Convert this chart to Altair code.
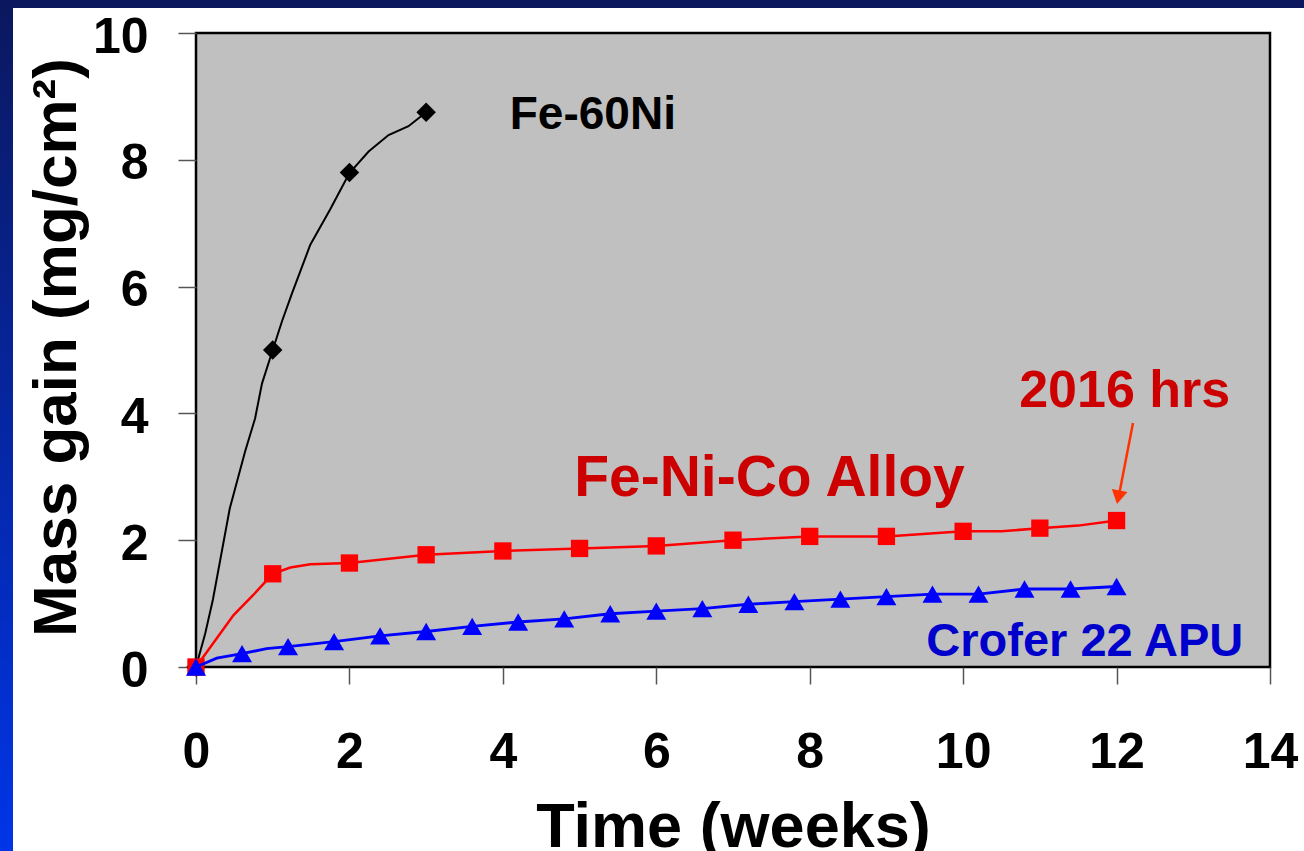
import altair as alt
import pandas as pd

FONT = "Liberation Sans"

# Fe-60Ni: recorded curve and marked weekly points
fe60ni_curve_t = [0, 0.12, 0.22, 0.44, 0.64, 0.77, 0.86, 1.0, 1.12, 1.25, 1.49, 1.75, 2.0, 2.25, 2.51, 2.77, 3.0]
fe60ni_curve_m = [0, 0.53, 1.06, 2.5, 3.4, 3.92, 4.47, 5.0, 5.45, 5.89, 6.66, 7.22, 7.79, 8.13, 8.39, 8.53, 8.75]
fe60ni_t = [0, 1, 2, 3]
fe60ni_m = [0, 5.0, 7.8, 8.75]

# Fe-Ni-Co alloy
fenico_curve_t = [0, 0.49, 0.75, 1.0, 1.23, 1.49, 2, 3, 4, 5, 6, 7, 8, 9, 10, 10.5, 11, 11.5, 12]
fenico_curve_m = [0, 0.82, 1.14, 1.47, 1.57, 1.62, 1.64, 1.77, 1.83, 1.87, 1.91, 2.0, 2.06, 2.06, 2.14, 2.14, 2.19, 2.23, 2.31]
fenico_t = [0, 1, 2, 3, 4, 5, 6, 7, 8, 9, 10, 11, 12]
fenico_m = [0, 1.47, 1.64, 1.77, 1.83, 1.87, 1.91, 2.0, 2.06, 2.06, 2.14, 2.19, 2.31]

# Crofer 22 APU
crofer_curve_t = [0, 0.27, 0.6, 0.92, 1.2, 1.8, 2.4, 3.0, 3.6, 4.2, 4.8, 5.4, 6.0, 6.6, 7.2, 7.8, 8.4, 9.0, 9.6, 10.2, 10.8, 11.4, 12.0]
crofer_curve_m = [0, 0.14, 0.21, 0.29, 0.32, 0.40, 0.49, 0.56, 0.64, 0.71, 0.76, 0.84, 0.88, 0.92, 0.99, 1.03, 1.07, 1.11, 1.15, 1.15, 1.23, 1.23, 1.27]
crofer_t = [0, 0.6, 1.2, 1.8, 2.4, 3.0, 3.6, 4.2, 4.8, 5.4, 6.0, 6.6, 7.2, 7.8, 8.4, 9.0, 9.6, 10.2, 10.8, 11.4, 12.0]
crofer_m = [0, 0.21, 0.32, 0.40, 0.49, 0.56, 0.64, 0.71, 0.76, 0.84, 0.88, 0.92, 0.99, 1.03, 1.07, 1.11, 1.15, 1.15, 1.23, 1.23, 1.27]

# Axis ticks
x_ticks = [0, 2, 4, 6, 8, 10, 12, 14]
y_ticks = [0, 2, 4, 6, 8, 10]

# In-plot labels
label_text = ["Fe-60Ni", "Fe-Ni-Co Alloy", "2016 hrs", "Crofer 22 APU"]
label_t = [4.09, 4.93, 10.73, 9.52]
label_m = [8.49, 2.70, 4.10, 0.17]
label_color = ["#000000", "#CC0000", "#CC0000", "#0000CC"]
label_size = [46, 57, 52, 47]

# Arrow pointing at the 2016 h measurement
arrow_t = [12.214]
arrow_m = [3.85]
arrow_t2 = [12.03]
arrow_m2 = [2.70]
head_t = [12.023]
head_m = [2.678]

W, H = 1074, 634
PAD_L, PAD_T = 196, 33
TOTAL_W, TOTAL_H = 1304, 851

x_enc = alt.X(
    "t:Q",
    scale=alt.Scale(domain=[0, 14], nice=False, zero=False),
    axis=alt.Axis(
        values=x_ticks, title="Time (weeks)", grid=False, domain=False,
        tickSize=17, tickColor="#555555", tickWidth=1.5,
        labelFont=FONT, labelFontSize=50, labelFontWeight="bold", labelColor="black",
        labelPadding=43, labelFlush=False, labelOverlap=False,
        titleFont=FONT, titleFontSize=63, titleFontWeight="bold", titleColor="black",
        titleBaseline="alphabetic", titleY=179,
    ),
)
y_enc = alt.Y(
    "m:Q",
    scale=alt.Scale(domain=[0, 10], nice=False),
    axis=alt.Axis(
        values=y_ticks, title="Mass gain (mg/cm²)", grid=False, domain=False,
        tickSize=18, tickColor="#555555", tickWidth=1.5,
        labelFont=FONT, labelFontSize=50, labelFontWeight="bold", labelColor="black",
        labelPadding=30, labelOffset=4, labelFlush=False, labelOverlap=False,
        titleFont=FONT, titleFontSize=62, titleFontWeight="bold", titleColor="black",
        titleAngle=270, titleBaseline="alphabetic", titleAlign="center",
        titleX=-121, titleY=314,
    ),
)

one = pd.DataFrame({"k": [0]})

# Slide frame: navy band on top, blue gradient band on the left
top_band = alt.Chart(one).mark_rect(color="#0B185E").encode(
    x=alt.value(-PAD_L), x2=alt.value(TOTAL_W - PAD_L),
    y=alt.value(-PAD_T), y2=alt.value(-PAD_T + 8),
)
left_band = alt.Chart(one).mark_rect(
    color=alt.Gradient(
        gradient="linear",
        stops=[alt.GradientStop(offset=0, color="#0B185E"),
               alt.GradientStop(offset=1, color="#0035E8")],
        x1=0, x2=0, y1=0, y2=1,
    )
).encode(
    x=alt.value(-PAD_L), x2=alt.value(-PAD_L + 13),
    y=alt.value(-PAD_T), y2=alt.value(TOTAL_H - PAD_T),
)


def curve(ts, ms, color, width):
    df = pd.DataFrame({"t": ts, "m": ms})
    return alt.Chart(df).mark_line(color=color, strokeWidth=width).encode(x=x_enc, y=y_enc, order="t:Q")


def marks(ts, ms, color, shape, size):
    df = pd.DataFrame({"t": ts, "m": ms})
    return alt.Chart(df).mark_point(
        shape=shape, filled=True, color=color, size=size, opacity=1
    ).encode(x=x_enc, y=y_enc)


labels = alt.Chart(pd.DataFrame({
    "t": label_t, "m": label_m, "txt": label_text, "c": label_color, "s": label_size,
})).mark_text(font=FONT, fontWeight="bold", align="left", baseline="alphabetic").encode(
    x=x_enc, y=y_enc, text="txt:N",
    color=alt.Color("c:N", scale=None),
    size=alt.Size("s:Q", scale=None),
)

arrow_line = alt.Chart(pd.DataFrame({
    "t": arrow_t, "m": arrow_m, "t2": arrow_t2, "m2": arrow_m2,
})).mark_rule(color="#FF3300", strokeWidth=2.5).encode(x=x_enc, y=y_enc, x2="t2:Q", y2="m2:Q")

arrow_head = alt.Chart(pd.DataFrame({"t": head_t, "m": head_m})).mark_point(
    shape="triangle-down", filled=True, color="#FF3300", size=256, angle=11, opacity=1
).encode(x=x_enc, y=y_enc)

chart = alt.layer(
    top_band, left_band,
    curve(fe60ni_curve_t, fe60ni_curve_m, "#000000", 2),
    marks(fe60ni_t, fe60ni_m, "#000000", "diamond", 380),
    curve(fenico_curve_t, fenico_curve_m, "#FF0000", 2.5),
    marks(fenico_t, fenico_m, "#FF0000", "square", 300),
    curve(crofer_curve_t, crofer_curve_m, "#0000FF", 2.8),
    marks(crofer_t, crofer_m, "#0000FF", "triangle-up", 400),
    labels, arrow_line, arrow_head,
).properties(
    width=W, height=H,
    autosize=alt.AutoSizeParams(type="none"),
    padding={"left": PAD_L, "top": PAD_T, "right": TOTAL_W - PAD_L - W, "bottom": TOTAL_H - PAD_T - H},
    background="white",
).configure_view(
    fill="#C0C0C0", stroke="#000000", strokeWidth=2.5,
)

chart.save("out.html", embed_options={"renderer": "svg", "actions": False})
